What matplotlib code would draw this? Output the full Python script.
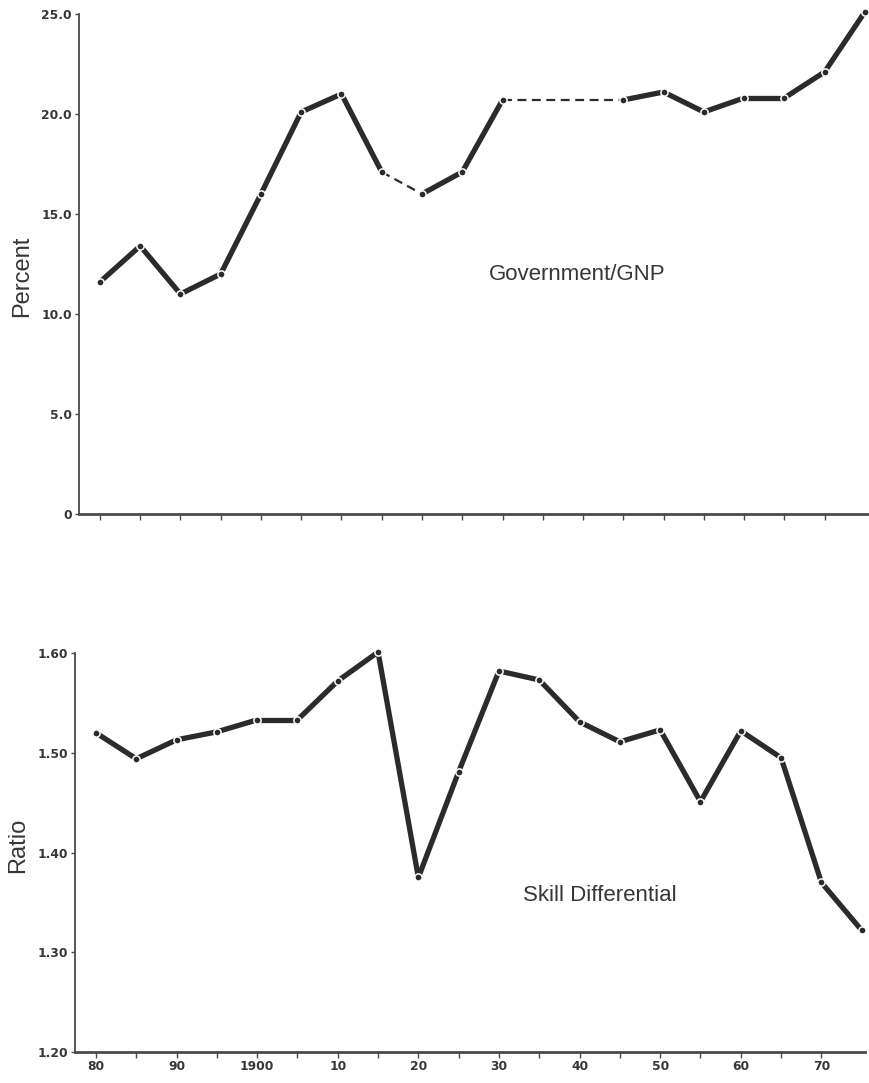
import numpy as np
import matplotlib
matplotlib.use("Agg")
import matplotlib.pyplot as plt

# ---- data ----
years = [1880, 1885, 1890, 1895, 1900, 1905, 1910, 1915, 1920, 1925, 1930,
         1935, 1940, 1945, 1950, 1955, 1960, 1965, 1970, 1975]
gov_gnp = [11.6, 13.4, 11.0, 12.0, 16.0, 20.1, 21.0, 17.1, 16.0, 17.1, 20.7,
           None, None, 20.7, 21.1, 20.1, 20.8, 20.8, 22.1, 25.1]
gov_dashed = [(1915, 1920), (1930, 1945)]
skill = [1.52, 1.494, 1.513, 1.521, 1.533, 1.533, 1.572, 1.601, 1.375, 1.481,
         1.582, 1.573, 1.531, 1.511, 1.523, 1.451, 1.522, 1.495, 1.37, 1.322]

top_yticks = [0, 5, 10, 15, 20, 25]
top_yticklabels = ["0", "5.0", "10.0", "15.0", "20.0", "25.0"]
bot_yticks = [1.20, 1.30, 1.40, 1.50, 1.60]
bot_yticklabels = ["1.20", "1.30", "1.40", "1.50", "1.60"]
xmajor = [1880, 1890, 1900, 1910, 1920, 1930, 1940, 1950, 1960, 1970]
xmajor_labels = ["80", "90", "1900", "10", "20", "30", "40", "50", "60", "70"]
xminor = [1885, 1895, 1905, 1915, 1925, 1935, 1945, 1955, 1965]

INK = "#2b2b2b"
AX = "#4a4a4a"
TXT = "#363636"
TICKFONT = dict(family=["DejaVu Sans"], weight="bold", size=8.8)
YLABFONT = dict(family=["Liberation Sans", "DejaVu Sans"], size=17)
ANNFONT = dict(family=["Liberation Sans", "DejaVu Sans"], size=16)

fig = plt.figure(figsize=(8.69, 10.83), dpi=100)
ax1 = fig.add_axes([0.0909, 0.5254, 0.908, 0.4617])
ax2 = fig.add_axes([0.0863, 0.0286, 0.909, 0.3684])

LW = 3.8
MS = 5.2
MEW = 1.1


def draw_series(ax, xs, ys, dashed):
    pts = [(x, y) for x, y in zip(xs, ys) if y is not None]
    for (x0, y0), (x1, y1) in zip(pts[:-1], pts[1:]):
        if (x0, x1) in dashed:
            ax.plot([x0, x1], [y0, y1], color=INK, lw=1.6, ls=(0, (4, 2.5)),
                    solid_capstyle="butt", clip_on=False, zorder=2)
        else:
            ax.plot([x0, x1], [y0, y1], color=INK, lw=LW,
                    solid_capstyle="butt", clip_on=False, zorder=2)
    px = [p[0] for p in pts]
    py = [p[1] for p in pts]
    ax.plot(px, py, ls="none", marker="o", ms=MS, mfc=INK, mec="white",
            mew=MEW, clip_on=False, zorder=3)


draw_series(ax1, years, gov_gnp, gov_dashed)
draw_series(ax2, years, skill, [])

for ax in (ax1, ax2):
    ax.set_xlim(1877.4, 1975.4)
    for s in ("top", "right"):
        ax.spines[s].set_visible(False)
    ax.spines["left"].set_color(AX)
    ax.spines["left"].set_linewidth(1.3)
    ax.spines["bottom"].set_color(AX)
    ax.spines["bottom"].set_linewidth(2.0)
    ax.tick_params(axis="both", which="both", direction="out", colors=AX,
                   width=1.0, length=4, pad=2)
    ax.tick_params(axis="y", length=3, pad=2)
    ax.set_xticks(xmajor)
    ax.set_xticks(xminor, minor=True)

ax1.set_ylim(0, 25)
ax1.set_yticks(top_yticks)
ax1.set_yticklabels(top_yticklabels, **TICKFONT, color=TXT)
ax1.set_xticklabels([])
ax1.set_ylabel("Percent", **YLABFONT, color=TXT)
ax1.yaxis.set_label_coords(-0.058, 0.476)
ax1.text(1939.3, 11.95, "Government/GNP", ha="center", va="center",
         **ANNFONT, color=TXT)

ax2.set_ylim(1.20, 1.60)
ax2.set_yticks(bot_yticks)
ax2.set_yticklabels(bot_yticklabels, **TICKFONT, color=TXT)
ax2.set_xticklabels(xmajor_labels, **TICKFONT, color=TXT)
ax2.set_ylabel("Ratio", **YLABFONT, color=TXT)
ax2.yaxis.set_label_coords(-0.058, 0.519)
ax2.text(1942.5, 1.357, "Skill Differential", ha="center", va="center",
         **ANNFONT, color=TXT)

fig.savefig("out.png", dpi=100)
